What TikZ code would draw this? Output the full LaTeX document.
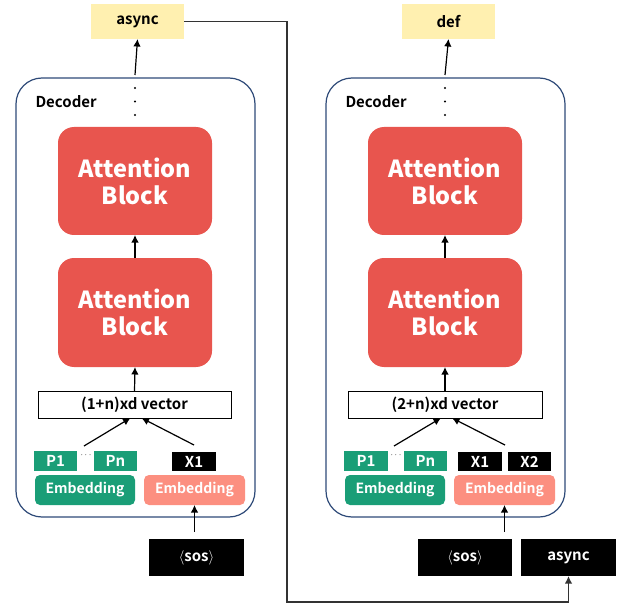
\documentclass[tikz,border=0pt]{standalone}
\usepackage{fontspec}
\setmainfont{Noto Sans CJK KR}[BoldFont={* Bold}]
\newfontfamily\heavyfont{Noto Sans CJK KR Black}
\usetikzlibrary{arrows.meta}
\definecolor{outyellow}{HTML}{FFF0B0}
\definecolor{attred}{HTML}{E8554E}
\definecolor{embgreen}{HTML}{1A9E77}
\definecolor{embsalmon}{HTML}{FC8F80}
\definecolor{decnavy}{HTML}{2E4A78}
\definecolor{linkgray}{HTML}{333333}
\tikzset{
  sized/.style 2 args={minimum width=#1pt, minimum height=#2pt, inner sep=0pt, outer sep=0pt},
  lbl/.style={font=\bfseries\fontsize{15}{17}\selectfont},
  outbox/.style={fill=outyellow, lbl, text=black},
  decoder/.style={draw=decnavy, line width=1.2pt, rounded corners=26pt},
  attblock/.style={fill=attred, rounded corners=16pt, text=white, align=center,
    font=\heavyfont\fontsize{23.5}{27}\selectfont},
  vecbox/.style={draw=black, line width=1pt, fill=white, lbl},
  pbox/.style={fill=embgreen, text=white, lbl},
  xbox/.style={fill=black, text=white, lbl},
  embg/.style={fill=embgreen, rounded corners=5pt, text=white, font=\bfseries\fontsize{14}{16}\selectfont},
  embs/.style={fill=embsalmon, rounded corners=5pt, text=white, font=\bfseries\fontsize{14}{16}\selectfont},
  tokbox/.style={fill=black, text=white, lbl},
  arr/.style={-{Latex[length=7.5pt,width=7.5pt]}, line width=1.2pt, black},
  feedback/.style={-{Latex[length=7.5pt,width=7.5pt]}, line width=1.8pt, linkgray},
  dotmark/.style={circle, fill=black, inner sep=0pt, minimum size=2.2pt}
}
\begin{document}
\begin{tikzpicture}[x=1pt, y=-1pt]
\useasboundingbox (0,0) rectangle (621,604);

% ---------- first decoding step ----------
\node[decoder, sized={239}{439}] (decA) at (135.5,297.5) {};
\node[lbl, anchor=west] (decAlbl) at (32,102) {Decoder};
\node[outbox, sized={93}{35}] (outA) at (137.5,21.5) {async};
\node[dotmark] (dA1) at (135,88) {};
\node[dotmark] (dA2) at (135,101.5) {};
\node[dotmark] (dA3) at (135,115) {};
\coordinate (topA) at (135,75);
\node[attblock, sized={154}{108}] (attA1) at (135,181) {Attention\\Block};
\node[attblock, sized={154}{109}] (attA2) at (135,312.5) {Attention\\Block};
\node[vecbox, sized={193}{27}] (vecA) at (134.5,404.5) {(1+n)xd vector};
\node[pbox, sized={43}{20}] (pA1) at (55.5,461) {P1};
\node[pbox, sized={43}{20}] (pAn) at (115.5,461) {Pn};
\node[font=\bfseries\fontsize{9}{9}\selectfont, inner sep=0pt] (pAdots) at (86,455) {$\cdots$};
\node[xbox, sized={44}{19}] (xA1) at (194,461.5) {X1};
\node[embg, sized={100}{30}] (embAg) at (85,490) {Embedding};
\node[embs, sized={101}{30}] (embAs) at (194.5,490) {Embedding};
\node[tokbox, sized={95}{37}] (sosA) at (196.5,557.5) {$\langle$sos$\rangle$};
\coordinate (pgA) at (84,446);
\coordinate (xgA) at (194,445);
\coordinate (inA) at (194.5,532);

\draw[arr] (topA) -- (outA.south);
\draw[arr] (attA2.north) -- (attA1.south);
\draw[arr] (vecA.north) -- (attA2.south);
\draw[arr] (pgA) -- ([xshift=-4pt]vecA.south);
\draw[arr] (xgA) -- ([xshift=7pt]vecA.south);
\draw[arr] (inA) -- (embAs.south);

% ---------- second decoding step ----------
\node[decoder, sized={239}{439}] (decB) at (445.5,297.5) {};
\node[lbl, anchor=west] (decBlbl) at (342,102) {Decoder};
\node[outbox, sized={93}{35}] (outB) at (448.5,21.5) {def};
\node[dotmark] (dB1) at (445,88) {};
\node[dotmark] (dB2) at (445,101.5) {};
\node[dotmark] (dB3) at (445,115) {};
\coordinate (topB) at (445,75);
\node[attblock, sized={154}{108}] (attB1) at (445,181) {Attention\\Block};
\node[attblock, sized={154}{109}] (attB2) at (445,312.5) {Attention\\Block};
\node[vecbox, sized={194}{27}] (vecB) at (445,404.5) {(2+n)xd vector};
\node[pbox, sized={44}{20}] (pB1) at (366,461) {P1};
\node[pbox, sized={43}{20}] (pBn) at (425.5,461) {Pn};
\node[font=\bfseries\fontsize{9}{9}\selectfont, inner sep=0pt] (pBdots) at (396,455) {$\cdots$};
\node[xbox, sized={44}{19}] (xB1) at (480,461.5) {X1};
\node[xbox, sized={43}{19}] (xB2) at (529.5,461.5) {X2};
\node[embg, sized={100}{30}] (embBg) at (395,490) {Embedding};
\node[embs, sized={101}{30}] (embBs) at (504.5,490) {Embedding};
\node[tokbox, sized={94}{37}] (sosB) at (465,557.5) {$\langle$sos$\rangle$};
\node[tokbox, sized={95}{37}] (asyncB) at (568.5,557.5) {async};
\coordinate (pgB) at (394,446);
\coordinate (xgB) at (505,445);
\coordinate (inB) at (504.5,532);

\draw[arr] (topB) -- (outB.south);
\draw[arr] (attB2.north) -- (attB1.south);
\draw[arr] (vecB.north) -- (attB2.south);
\draw[arr] (pgB) -- ([xshift=-4pt]vecB.south);
\draw[arr] (xgB) -- ([xshift=7pt]vecB.south);
\draw[arr] (inB) -- (embBs.south);

% ---------- output of step one fed back as input of step two ----------
\draw[feedback] (outA.east) -- (287,21.5) -- (287,602) -- (asyncB.south |- 0,602) -- (asyncB.south);
\end{tikzpicture}
\end{document}
